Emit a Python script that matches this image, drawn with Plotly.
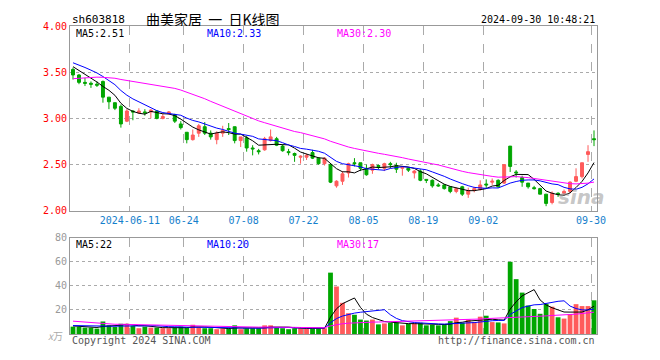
import plotly.graph_objects as go
import pandas as pd

# ---- daily candles (visible window: 88 trading days, 2024-05-27 .. 2024-09-30)
opens = [3.53, 3.47, 3.39, 3.38, 3.37, 3.40, 3.23, 3.17, 3.13, 2.97,
         3.08, 3.06, 3.07, 3.07, 3.08, 3.00, 3.05, 3.04, 2.94, 2.85,
         2.77, 2.84, 2.91, 2.84, 2.77, 2.84, 2.89, 2.91, 2.76, 2.79,
         2.68, 2.65, 2.66, 2.76, 2.78, 2.70, 2.64, 2.62, 2.58, 2.58,
         2.63, 2.57, 2.51, 2.50, 2.27, 2.32, 2.41, 2.52, 2.52, 2.46,
         2.44, 2.49, 2.46, 2.51, 2.49, 2.46, 2.46, 2.41, 2.43, 2.34,
         2.33, 2.28, 2.28, 2.26, 2.21, 2.26, 2.18, 2.22, 2.23, 2.29,
         2.31, 2.33, 2.30, 2.70, 2.42, 2.36, 2.30, 2.25, 2.24, 2.18,
         2.09, 2.19, 2.19, 2.21, 2.32, 2.37, 2.61, 2.78]
highs = [3.55, 3.48, 3.44, 3.40, 3.40, 3.41, 3.23, 3.17, 3.15, 3.10,
         3.09, 3.11, 3.10, 3.10, 3.09, 3.05, 3.08, 3.05, 2.97, 2.85,
         2.88, 2.94, 2.96, 2.87, 2.86, 2.92, 2.95, 2.91, 2.80, 2.81,
         2.71, 2.67, 2.80, 2.88, 2.80, 2.72, 2.67, 2.63, 2.60, 2.62,
         2.66, 2.58, 2.58, 2.51, 2.33, 2.43, 2.52, 2.57, 2.52, 2.50,
         2.51, 2.50, 2.52, 2.53, 2.52, 2.47, 2.47, 2.44, 2.45, 2.34,
         2.34, 2.30, 2.29, 2.26, 2.25, 2.27, 2.25, 2.26, 2.33, 2.34,
         2.35, 2.34, 2.50, 2.70, 2.44, 2.38, 2.30, 2.27, 2.25, 2.18,
         2.21, 2.20, 2.23, 2.32, 2.46, 2.52, 2.71, 2.87]
lows = [3.42, 3.37, 3.35, 3.33, 3.34, 3.17, 3.10, 3.09, 2.90, 2.96,
        2.98, 3.05, 3.03, 3.00, 2.99, 2.99, 3.04, 2.95, 2.88, 2.73,
        2.76, 2.80, 2.82, 2.77, 2.72, 2.80, 2.82, 2.73, 2.69, 2.64,
        2.60, 2.61, 2.65, 2.75, 2.70, 2.64, 2.60, 2.53, 2.51, 2.55,
        2.56, 2.50, 2.49, 2.30, 2.25, 2.28, 2.36, 2.48, 2.43, 2.38,
        2.40, 2.45, 2.43, 2.46, 2.41, 2.38, 2.42, 2.35, 2.32, 2.30,
        2.25, 2.26, 2.23, 2.19, 2.19, 2.16, 2.14, 2.20, 2.22, 2.24,
        2.28, 2.25, 2.29, 2.42, 2.36, 2.26, 2.24, 2.23, 2.18, 2.05,
        2.07, 2.15, 2.17, 2.19, 2.31, 2.35, 2.53, 2.70]
closes = [3.47, 3.39, 3.38, 3.37, 3.36, 3.23, 3.18, 3.11, 2.94, 3.08,
          3.07, 3.08, 3.06, 3.09, 3.00, 3.02, 3.07, 2.97, 2.90, 2.77,
          2.82, 2.92, 2.84, 2.80, 2.84, 2.87, 2.88, 2.76, 2.80, 2.68,
          2.67, 2.64, 2.78, 2.80, 2.71, 2.65, 2.63, 2.60, 2.59, 2.60,
          2.57, 2.51, 2.57, 2.31, 2.32, 2.40, 2.51, 2.51, 2.46, 2.39,
          2.50, 2.48, 2.51, 2.50, 2.45, 2.47, 2.44, 2.43, 2.33, 2.33,
          2.27, 2.27, 2.24, 2.21, 2.24, 2.18, 2.22, 2.24, 2.28, 2.28,
          2.32, 2.26, 2.50, 2.48, 2.41, 2.31, 2.26, 2.24, 2.18, 2.08,
          2.19, 2.18, 2.21, 2.31, 2.37, 2.52, 2.64, 2.77]
volumes = [6.1, 5.9, 5.3, 5.3, 4.5, 10.4, 7.2, 5.9, 8.5, 8.5,
           6.7, 4.8, 6.1, 5.3, 5.3, 4.8, 4.8, 5.3, 6.1, 5.3,
           7.7, 5.6, 4.8, 4.8, 4.0, 4.5, 4.5, 7.2, 4.0, 4.8,
           4.8, 4.8, 7.2, 7.2, 5.3, 4.8, 4.0, 4.8, 4.8, 4.8,
           4.8, 4.8, 4.8, 51.0, 39.5, 25.9, 17.3, 16.0, 12.0, 11.2,
           12.0, 8.0, 8.8, 9.3, 9.3, 7.2, 8.5, 8.8, 9.3, 7.2,
           7.7, 7.2, 8.0, 10.7, 13.6, 9.3, 12.0, 9.9, 14.4, 15.2,
           9.9, 9.6, 8.8, 60.0, 45.6, 34.4, 23.7, 20.8, 16.8, 25.1,
           22.7, 13.9, 12.8, 16.5, 24.8, 23.2, 23.2, 28.0]

# ---- estimated closes / volumes of the 29 days before the window (feed the moving averages)
pre_close = [3.22, 3.25, 3.24, 3.28, 3.30, 3.27, 3.31, 3.34, 3.40,
             3.36, 3.33, 3.35, 3.38, 3.42, 3.37, 3.34, 3.39, 3.44, 3.43, 3.45,
             3.62, 3.66, 3.66, 3.66, 3.62, 3.60, 3.57, 3.57, 3.59]
pre_vol = [18, 22, 16, 20, 19, 17,
           10, 9, 12, 8, 9, 11, 10, 9, 8, 12, 10, 11, 9, 10,
           7, 8, 7, 7.5, 7, 7, 6.5, 7, 7]

# ---- axis ticks (trading-day index of each labelled date)
tick_idx = [10, 19, 29, 39, 49, 59, 69, 87]
tick_text = ["2024-06-11", "06-24", "07-08", "07-22", "08-05", "08-19", "09-02", "09-30"]
price_ticks = [2.0, 2.5, 3.0, 3.5, 4.0]
vol_ticks = [0, 20, 40, 60, 80]

# ---- header texts
code = "sh603818"
title = "曲美家居&nbsp;&nbsp;一&nbsp;&nbsp;日K线图"
stamp = "2024-09-30 10:48:21"
price_ma_text = ["MA5:2.51", "MA10:2.33", "MA30:2.30"]
vol_ma_text = ["MA5:22", "MA10:20", "MA30:17"]

RED = "#ff5b5b"
GREEN = "#00a600"
MA_COLORS = ["#000000", "#0000ff", "#ff00ff"]
MONO = "DejaVu Sans Mono"

n = len(closes)
x = list(range(n))
npre = len(pre_close)
cs = pd.Series(pre_close + closes)
vs = pd.Series(pre_vol + volumes)


def ma(s, k):
    return s.rolling(k).mean().iloc[npre:].tolist()


fig = go.Figure()

vcolors = [RED if c > o else GREEN for o, c in zip(opens, closes)]
fig.add_trace(go.Bar(x=x, y=volumes, marker=dict(color=vcolors, line=dict(width=0)),
                     width=0.8, xaxis="x2", yaxis="y2", hoverinfo="skip"))
for k, col in zip([5, 10, 30], MA_COLORS):
    fig.add_trace(go.Scatter(x=x, y=ma(vs, k), mode="lines", line=dict(color=col, width=1),
                             xaxis="x2", yaxis="y2", hoverinfo="skip"))

fig.add_trace(go.Candlestick(
    x=x, open=opens, high=highs, low=lows, close=closes,
    increasing=dict(line=dict(color=RED, width=1), fillcolor=RED),
    decreasing=dict(line=dict(color=GREEN, width=1), fillcolor=GREEN),
    whiskerwidth=0, xaxis="x", yaxis="y", hoverinfo="skip"))
for k, col in zip([5, 10, 30], MA_COLORS):
    fig.add_trace(go.Scatter(x=x, y=ma(cs, k), mode="lines", line=dict(color=col, width=1),
                             xaxis="x", yaxis="y", hoverinfo="skip"))

grid_x = [t - 0.5 for t in tick_idx]
common_x = dict(range=[-0.5, n - 0.5], tickvals=grid_x, showgrid=True, gridcolor="#aaaaaa",
                griddash="dash", gridwidth=1, showline=True, mirror=True, linecolor="#999999",
                linewidth=1, zeroline=False, ticks="", fixedrange=True)

# page body has an 8px margin: figure is 644x344 so the plot area sits at x 70..597, y 20..340
fig.update_layout(
    width=644, height=344,
    margin=dict(l=62, r=55, t=12, b=12),
    paper_bgcolor="white", plot_bgcolor="white",
    showlegend=False,
    xaxis=dict(**common_x, domain=[0, 1], anchor="y", ticktext=tick_text,
               tickfont=dict(family=MONO, size=10, color="#1580cc"), rangeslider=dict(visible=False)),
    yaxis=dict(domain=[0.4, 1], range=[2.0, 4.0], tickvals=price_ticks,
               ticktext=[f"{v:.2f}" for v in price_ticks],
               tickfont=dict(family=MONO, size=10, color="#ff0000"),
               showgrid=True, gridcolor="#aaaaaa", griddash="dot", showline=True, mirror=True,
               linecolor="#999999", zeroline=False, ticks=""),
    xaxis2=dict(**common_x, domain=[0, 1], anchor="y2", showticklabels=False),
    yaxis2=dict(domain=[0, 0.3125], range=[0, 80], tickvals=vol_ticks,
                ticktext=["" if v == 0 else str(v) for v in vol_ticks],
                tickfont=dict(family=MONO, size=10, color="#999999"),
                showgrid=True, gridcolor="#aaaaaa", griddash="dot", showline=True, mirror=True,
                linecolor="#999999", zeroline=False, ticks=""),
)


def px_y(p):
    return (340 - p) / 320


def px_x(p):
    return (p - 70) / 527


ann = []
ann.append(dict(text=code, x=0, y=px_y(13), xanchor="left", yanchor="middle", height=13,
                font=dict(family=MONO, size=11, color="#000")))
ann.append(dict(text=title, x=px_x(213), y=px_y(12.5), xanchor="center", yanchor="middle", height=15,
                font=dict(family="Noto Sans CJK SC", size=14, color="#000")))
ann.append(dict(text=stamp, x=1, y=px_y(13), xanchor="right", yanchor="middle", height=12,
                font=dict(family=MONO, size=10, color="#000")))
for t, xp, col in zip(price_ma_text, [74, 205, 335], MA_COLORS):
    ann.append(dict(text=t, x=px_x(xp), y=px_y(27.5), xanchor="left", yanchor="middle", height=11,
                    font=dict(family=MONO, size=10, color=col)))
for t, xp, col in zip(vol_ma_text, [74, 205, 335], MA_COLORS):
    ann.append(dict(text=t, x=px_x(xp), y=px_y(247), xanchor="left", yanchor="middle", height=11,
                    font=dict(family=MONO, size=10, color=col)))
ann.append(dict(text="<i>x</i>万", x=px_x(65), y=px_y(342), xanchor="right", yanchor="middle",
                font=dict(family="Noto Sans CJK SC", size=10, color="#aaaaaa")))
ann.append(dict(text="Copyright 2024 SINA.COM", x=0, y=px_y(347), xanchor="left", yanchor="middle",
                font=dict(family=MONO, size=10, color="#555555")))
ann.append(dict(text="http://finance.sina.com.cn", x=1, y=px_y(347), xanchor="right", yanchor="middle",
                font=dict(family=MONO, size=10, color="#555555")))
ann.append(dict(text="<b><i>sina</i></b>", x=px_x(581), y=px_y(198), xanchor="center", yanchor="middle",
                font=dict(family="DejaVu Sans", size=20, color="rgba(150,150,150,0.55)")))
for a in ann:
    a.update(xref="paper", yref="paper", showarrow=False)
fig.update_layout(annotations=ann)

fig.write_html("out.html")
